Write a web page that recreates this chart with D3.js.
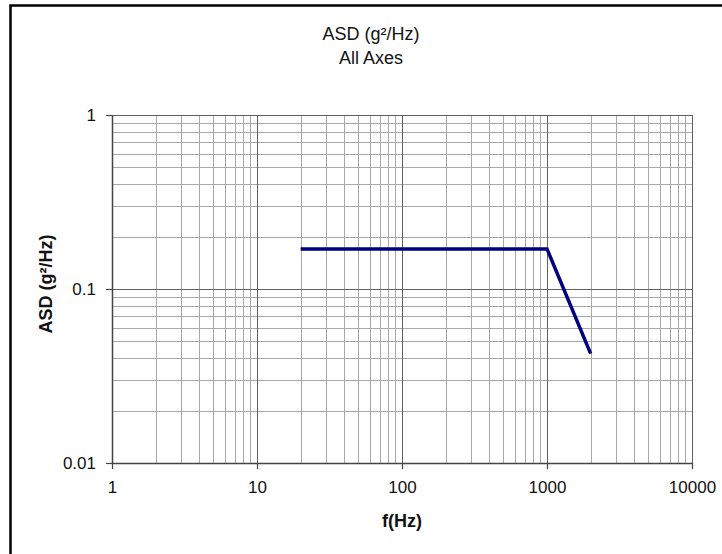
<!DOCTYPE html>
<html>
<head>
<meta charset="utf-8">
<script src="https://cdn.jsdelivr.net/npm/d3@7"></script>
<style>
  body { margin: 0; background: #fff; }
  svg text { font-family: "Liberation Sans", Arial, sans-serif; fill: #111; }
</style>
</head>
<body>
<div id="chart"></div>
<script>
// data
var freq = [20, 1000, 2000];
var asd = [0.17, 0.17, 0.0425];
var xTicks = [1, 10, 100, 1000, 10000];
var yTicks = [0.01, 0.1, 1];
var xTickLabels = ['1', '10', '100', '1000', '10000'];
var yTickLabels = ['0.01', '0.1', '1'];

var W = 722, H = 554;
var margin = {top: 115, left: 112, right: 30, bottom: 91};
var width = W - margin.left - margin.right;   // 580
var height = H - margin.top - margin.bottom;  // 348

var x = d3.scaleLog().domain([1, 10000]).range([0, width]);
var y = d3.scaleLog().domain([0.01, 1]).range([height, 0]);

var svg = d3.select('#chart').append('svg')
    .attr('width', W)
    .attr('height', H);

// outer frame (right / bottom edges fall outside the picture)
svg.append('rect')
    .attr('x', 10.5).attr('y', 5.5)
    .attr('width', 800).attr('height', 700)
    .attr('fill', 'none')
    .attr('stroke', '#000')
    .attr('stroke-width', 2.5);

svg.append('text')
    .attr('x', 371).attr('y', 40)
    .attr('text-anchor', 'middle')
    .style('font-size', '18px')
    .text('ASD (g²/Hz)');
svg.append('text')
    .attr('x', 371).attr('y', 64)
    .attr('text-anchor', 'middle')
    .style('font-size', '18px')
    .text('All Axes');

var g = svg.append('g')
    .attr('transform', 'translate(' + margin.left + ',' + margin.top + ')');

// minor grid values: 2..9 within each decade
var xMinor = [], yMinor = [];
xTicks.slice(0, -1).forEach(function(d){
    for (var k = 2; k <= 9; k++) xMinor.push(d * k);
});
yTicks.slice(0, -1).forEach(function(d){
    for (var k = 2; k <= 9; k++) yMinor.push(+(d * k).toPrecision(3));
});

g.append('g').selectAll('line')
    .data(xMinor).enter().append('line')
    .attr('x1', function(d){ return Math.round(x(d)) + 0.5; })
    .attr('x2', function(d){ return Math.round(x(d)) + 0.5; })
    .attr('y1', 0).attr('y2', height)
    .attr('stroke', '#a8a8a8').attr('stroke-width', 1);

g.append('g').selectAll('line')
    .data(yMinor).enter().append('line')
    .attr('y1', function(d){ return Math.round(y(d)) + 0.5; })
    .attr('y2', function(d){ return Math.round(y(d)) + 0.5; })
    .attr('x1', 0).attr('x2', width)
    .attr('stroke', '#a8a8a8').attr('stroke-width', 1);

// major grid
g.append('g').selectAll('line')
    .data(xTicks).enter().append('line')
    .attr('x1', function(d){ return Math.round(x(d)) + 0.5; })
    .attr('x2', function(d){ return Math.round(x(d)) + 0.5; })
    .attr('y1', 0).attr('y2', height)
    .attr('stroke', '#606060').attr('stroke-width', 1);

g.append('g').selectAll('line')
    .data(yTicks).enter().append('line')
    .attr('y1', function(d){ return Math.round(y(d)) + 0.5; })
    .attr('y2', function(d){ return Math.round(y(d)) + 0.5; })
    .attr('x1', 0).attr('x2', width)
    .attr('stroke', '#606060').attr('stroke-width', 1);

// axes
var xAxis = d3.axisBottom(x).tickValues(xTicks)
    .tickFormat(function(d, i){ return xTickLabels[i]; })
    .tickSizeInner(6).tickSizeOuter(0).tickPadding(12);
var yAxis = d3.axisLeft(y).tickValues(yTicks)
    .tickFormat(function(d, i){ return yTickLabels[i]; })
    .tickSizeInner(6).tickSizeOuter(0).tickPadding(10);

var gx = g.append('g')
    .attr('transform', 'translate(0,' + height + ')')
    .call(xAxis);
var gy = g.append('g').call(yAxis);

[gx, gy].forEach(function(a){
    a.select('.domain').attr('stroke', '#444').attr('stroke-width', 1.5);
    a.selectAll('.tick line').attr('stroke', '#444').attr('stroke-width', 1.2);
    a.selectAll('.tick text')
        .style('font-size', '17px')
        .style('font-family', '"Liberation Sans", Arial, sans-serif')
        .attr('fill', '#111');
});

// axis titles
svg.append('text')
    .attr('transform', 'translate(52,284) rotate(-90)')
    .attr('text-anchor', 'middle')
    .style('font-size', '18px')
    .style('font-weight', 'bold')
    .text('ASD (g²/Hz)');

svg.append('text')
    .attr('x', 402).attr('y', 527)
    .attr('text-anchor', 'middle')
    .style('font-size', '18px')
    .style('font-weight', 'bold')
    .text('f(Hz)');

// data line
var line = d3.line()
    .x(function(d){ return x(d[0]); })
    .y(function(d){ return y(d[1]); });

g.append('path')
    .datum(d3.zip(freq, asd))
    .attr('fill', 'none')
    .attr('stroke', '#000080')
    .attr('stroke-width', 3.5)
    .attr('stroke-linejoin', 'miter')
    .attr('d', line);
</script>
</body>
</html>
